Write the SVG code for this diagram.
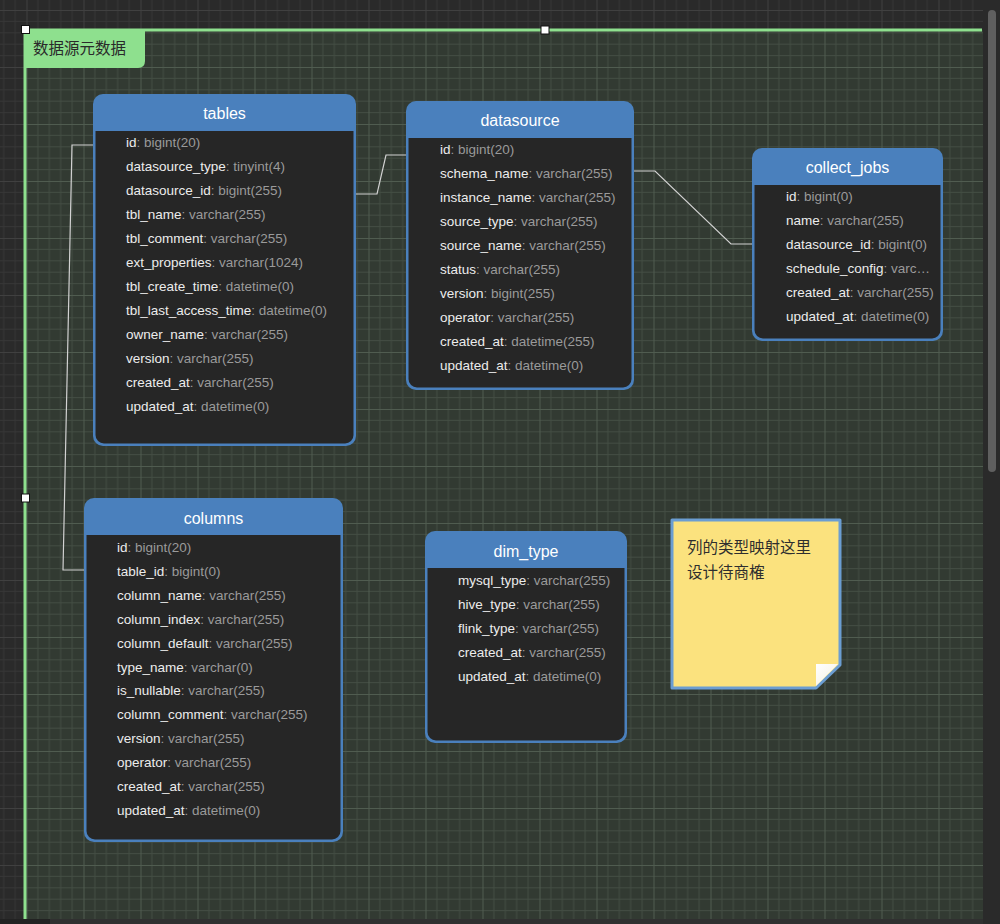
<svg xmlns="http://www.w3.org/2000/svg" width="1000" height="924" viewBox="0 0 1000 924">
<style>
.title{font-family:"Liberation Sans",Arial,sans-serif;font-size:16px;fill:#ffffff;text-anchor:middle}
.f{font-family:"Liberation Sans",Arial,sans-serif;font-size:13.5px}
.n{fill:#ececec}
.t{fill:#9a9a9a}
.hdr{fill:#4a80bd}
.body{fill:#262626}
.conn{fill:none;stroke:#d2d2d2;stroke-width:1.2}
.handle{fill:#ffffff;stroke:#111111;stroke-width:1}
.cjk{font-family:"Noto Sans CJK SC","Noto Sans",sans-serif}
</style>
<defs>
<pattern id="gridOut" patternUnits="userSpaceOnUse" x="26.5" y="10" width="57" height="57">
<path d="M11.4,0V57M22.8,0V57M34.2,0V57M45.6,0V57M0,11.4H57M0,22.8H57M0,34.2H57M0,45.6H57" stroke="#363636" stroke-width="1" fill="none"/>
<path d="M0.5,0V57M0,0.5H57" stroke="#404040" stroke-width="1" fill="none"/>
</pattern>
<pattern id="gridIn" patternUnits="userSpaceOnUse" x="26.5" y="10" width="57" height="57">
<path d="M11.4,0V57M22.8,0V57M34.2,0V57M45.6,0V57M0,11.4H57M0,22.8H57M0,34.2H57M0,45.6H57" stroke="#434d43" stroke-width="1" fill="none"/>
<path d="M0.5,0V57M0,0.5H57" stroke="#505c50" stroke-width="1" fill="none"/>
</pattern>
<linearGradient id="fold" x1="0" y1="0" x2="1" y2="1">
<stop offset="0" stop-color="#ffffff"/>
<stop offset="1" stop-color="#f3f0e0"/>
</linearGradient>
</defs>

<!-- canvas -->
<rect x="0" y="0" width="1000" height="924" fill="#2a2a2a"/>
<rect x="0" y="0" width="983" height="919" fill="url(#gridOut)"/>

<!-- frame -->
<g id="frame">
<rect x="25" y="30" width="958" height="889" fill="#323a32"/>
<rect x="25" y="30" width="958" height="889" fill="url(#gridIn)"/>
<path d="M25,30H982M25,30V919" stroke="#8ee08e" stroke-width="3" fill="none"/>
<path d="M25,30H145V61Q145,68 138,68H25Z" fill="#8ee08e"/>
<text x="33" y="53.5" class="cjk" font-size="15.5" fill="#2a2a2a">数据源元数据</text>
</g>

<!-- connectors -->
<g id="connectors">
<polyline class="conn" points="93,145 72,145 63,570 84,570"/>
<polyline class="conn" points="356,194 377,194 386,155 406,155"/>
<polyline class="conn" points="634,171 655,171 731,244 752,244"/>
</g>

<!-- tables -->
<g id="node-tables">
<rect class="hdr" x="93" y="94" width="263" height="352" rx="10"/>
<path class="body" d="M95.5,131H353.5V435A8.5,8.5 0 0 1 345,443.5H104A8.5,8.5 0 0 1 95.5,435Z"/>
<text class="title" x="224.5" y="119">tables</text>
<text class="f" x="126" y="147"><tspan class="n">id</tspan><tspan class="t">: bigint(20)</tspan></text>
<text class="f" x="126" y="171"><tspan class="n">datasource_type</tspan><tspan class="t">: tinyint(4)</tspan></text>
<text class="f" x="126" y="195"><tspan class="n">datasource_id</tspan><tspan class="t">: bigint(255)</tspan></text>
<text class="f" x="126" y="219"><tspan class="n">tbl_name</tspan><tspan class="t">: varchar(255)</tspan></text>
<text class="f" x="126" y="243"><tspan class="n">tbl_comment</tspan><tspan class="t">: varchar(255)</tspan></text>
<text class="f" x="126" y="267"><tspan class="n">ext_properties</tspan><tspan class="t">: varchar(1024)</tspan></text>
<text class="f" x="126" y="291"><tspan class="n">tbl_create_time</tspan><tspan class="t">: datetime(0)</tspan></text>
<text class="f" x="126" y="315"><tspan class="n">tbl_last_access_time</tspan><tspan class="t">: datetime(0)</tspan></text>
<text class="f" x="126" y="339"><tspan class="n">owner_name</tspan><tspan class="t">: varchar(255)</tspan></text>
<text class="f" x="126" y="363"><tspan class="n">version</tspan><tspan class="t">: varchar(255)</tspan></text>
<text class="f" x="126" y="387"><tspan class="n">created_at</tspan><tspan class="t">: varchar(255)</tspan></text>
<text class="f" x="126" y="411"><tspan class="n">updated_at</tspan><tspan class="t">: datetime(0)</tspan></text>
</g>

<!-- datasource -->
<g id="node-datasource">
<rect class="hdr" x="406" y="101" width="228" height="289" rx="10"/>
<path class="body" d="M408.5,138H631.5V379A8.5,8.5 0 0 1 623,387.5H417A8.5,8.5 0 0 1 408.5,379Z"/>
<text class="title" x="520" y="126">datasource</text>
<text class="f" x="440" y="154"><tspan class="n">id</tspan><tspan class="t">: bigint(20)</tspan></text>
<text class="f" x="440" y="178"><tspan class="n">schema_name</tspan><tspan class="t">: varchar(255)</tspan></text>
<text class="f" x="440" y="202"><tspan class="n">instance_name</tspan><tspan class="t">: varchar(255)</tspan></text>
<text class="f" x="440" y="226"><tspan class="n">source_type</tspan><tspan class="t">: varchar(255)</tspan></text>
<text class="f" x="440" y="250"><tspan class="n">source_name</tspan><tspan class="t">: varchar(255)</tspan></text>
<text class="f" x="440" y="274"><tspan class="n">status</tspan><tspan class="t">: varchar(255)</tspan></text>
<text class="f" x="440" y="298"><tspan class="n">version</tspan><tspan class="t">: bigint(255)</tspan></text>
<text class="f" x="440" y="322"><tspan class="n">operator</tspan><tspan class="t">: varchar(255)</tspan></text>
<text class="f" x="440" y="346"><tspan class="n">created_at</tspan><tspan class="t">: datetime(255)</tspan></text>
<text class="f" x="440" y="370"><tspan class="n">updated_at</tspan><tspan class="t">: datetime(0)</tspan></text>
</g>

<!-- collect_jobs -->
<g id="node-collect_jobs">
<rect class="hdr" x="752" y="148" width="191" height="193" rx="10"/>
<path class="body" d="M754.5,185H940.5V330A8.5,8.5 0 0 1 932,338.5H763A8.5,8.5 0 0 1 754.5,330Z"/>
<text class="title" x="847.5" y="173">collect_jobs</text>
<text class="f" x="786" y="201"><tspan class="n">id</tspan><tspan class="t">: bigint(0)</tspan></text>
<text class="f" x="786" y="225"><tspan class="n">name</tspan><tspan class="t">: varchar(255)</tspan></text>
<text class="f" x="786" y="249"><tspan class="n">datasource_id</tspan><tspan class="t">: bigint(0)</tspan></text>
<text class="f" x="786" y="273"><tspan class="n">schedule_config</tspan><tspan class="t">: varc…</tspan></text>
<text class="f" x="786" y="297"><tspan class="n">created_at</tspan><tspan class="t">: varchar(255)</tspan></text>
<text class="f" x="786" y="321"><tspan class="n">updated_at</tspan><tspan class="t">: datetime(0)</tspan></text>
</g>

<!-- columns -->
<g id="node-columns">
<rect class="hdr" x="84" y="498" width="259" height="344" rx="10"/>
<path class="body" d="M86.5,535H340.5V831A8.5,8.5 0 0 1 332,839.5H95A8.5,8.5 0 0 1 86.5,831Z"/>
<text class="title" x="213.5" y="524">columns</text>
<text class="f" x="117" y="552"><tspan class="n">id</tspan><tspan class="t">: bigint(20)</tspan></text>
<text class="f" x="117" y="576"><tspan class="n">table_id</tspan><tspan class="t">: bigint(0)</tspan></text>
<text class="f" x="117" y="600"><tspan class="n">column_name</tspan><tspan class="t">: varchar(255)</tspan></text>
<text class="f" x="117" y="624"><tspan class="n">column_index</tspan><tspan class="t">: varchar(255)</tspan></text>
<text class="f" x="117" y="648"><tspan class="n">column_default</tspan><tspan class="t">: varchar(255)</tspan></text>
<text class="f" x="117" y="672"><tspan class="n">type_name</tspan><tspan class="t">: varchar(0)</tspan></text>
<text class="f" x="117" y="695"><tspan class="n">is_nullable</tspan><tspan class="t">: varchar(255)</tspan></text>
<text class="f" x="117" y="719"><tspan class="n">column_comment</tspan><tspan class="t">: varchar(255)</tspan></text>
<text class="f" x="117" y="743"><tspan class="n">version</tspan><tspan class="t">: varchar(255)</tspan></text>
<text class="f" x="117" y="767"><tspan class="n">operator</tspan><tspan class="t">: varchar(255)</tspan></text>
<text class="f" x="117" y="791"><tspan class="n">created_at</tspan><tspan class="t">: varchar(255)</tspan></text>
<text class="f" x="117" y="815"><tspan class="n">updated_at</tspan><tspan class="t">: datetime(0)</tspan></text>
</g>

<!-- dim_type -->
<g id="node-dim_type">
<rect class="hdr" x="425" y="531" width="202" height="212" rx="10"/>
<path class="body" d="M427.5,568H624.5V732A8.5,8.5 0 0 1 616,740.5H436A8.5,8.5 0 0 1 427.5,732Z"/>
<text class="title" x="526" y="557">dim_type</text>
<text class="f" x="458" y="585"><tspan class="n">mysql_type</tspan><tspan class="t">: varchar(255)</tspan></text>
<text class="f" x="458" y="609"><tspan class="n">hive_type</tspan><tspan class="t">: varchar(255)</tspan></text>
<text class="f" x="458" y="633"><tspan class="n">flink_type</tspan><tspan class="t">: varchar(255)</tspan></text>
<text class="f" x="458" y="657"><tspan class="n">created_at</tspan><tspan class="t">: varchar(255)</tspan></text>
<text class="f" x="458" y="681"><tspan class="n">updated_at</tspan><tspan class="t">: datetime(0)</tspan></text>
</g>

<!-- sticky note -->
<g id="note">
<path d="M672,520H840V665L816,688H672Z" fill="#fbe27e" stroke="#6b9dd2" stroke-width="3" stroke-linejoin="round"/>
<path d="M816,664H838L816,686Z" fill="url(#fold)"/>
<text x="687" y="552.5" class="cjk" font-size="15.5" fill="#2e2e2e">列的类型映射这里</text>
<text x="687" y="577.5" class="cjk" font-size="15.5" fill="#2e2e2e">设计待商榷</text>
</g>

<!-- selection handles -->
<g id="handles">
<rect class="handle" x="21.5" y="25.5" width="8" height="8"/>
<rect class="handle" x="541" y="26" width="8" height="8"/>
<rect class="handle" x="21.5" y="494" width="8" height="8"/>
</g>

<!-- scrollbars -->
<g id="scrollbars">
<rect x="983" y="0" width="17" height="924" fill="#2a2a2a"/>
<rect x="988" y="10" width="8" height="462" rx="4" fill="#5f5f5f"/>
<rect x="0" y="919" width="983" height="5" fill="#303030"/>
<rect x="0" y="919" width="50" height="5" fill="#222222"/>
</g>
</svg>
